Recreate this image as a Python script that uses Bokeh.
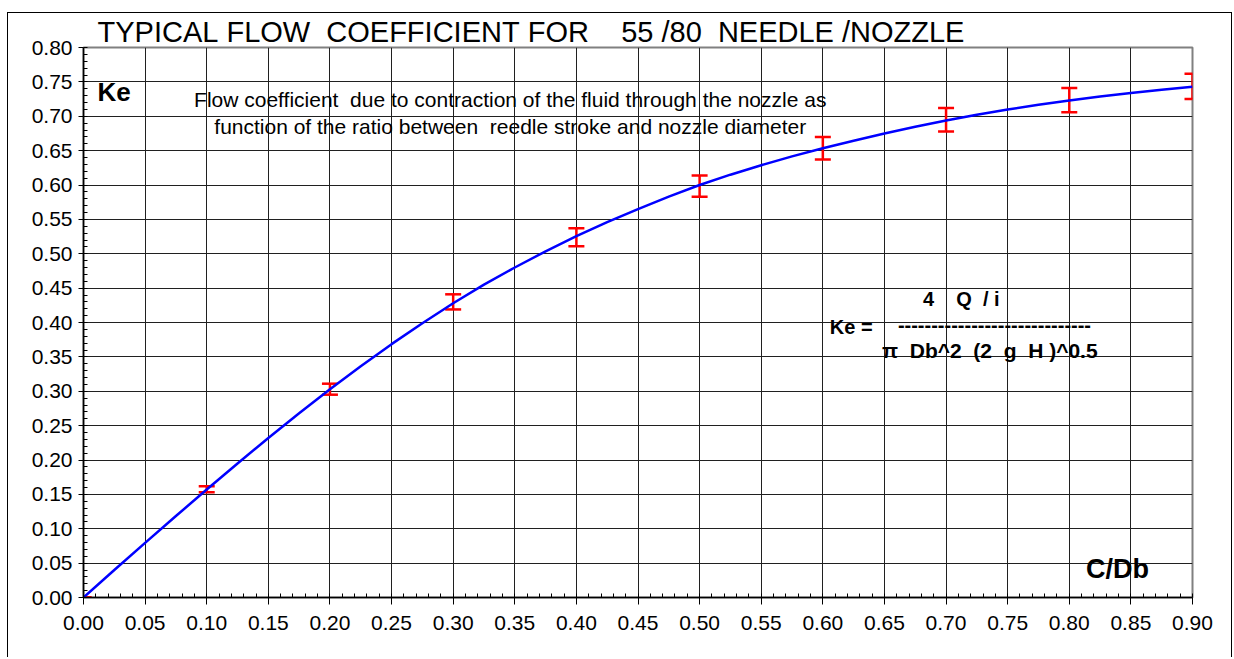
from bokeh.plotting import figure
from bokeh.models import (Label, Range1d, SingleIntervalTicker,
                          PrintfTickFormatter, Whisker, TeeHead, ColumnDataSource)
from bokeh.embed import file_html
from bokeh.resources import INLINE

# ---- data ----
curve_cdb = [0.000, 0.025, 0.050, 0.075, 0.100, 0.125, 0.150, 0.175, 0.200, 0.225,
             0.250, 0.275, 0.300, 0.325, 0.350, 0.375, 0.400, 0.425, 0.450, 0.475,
             0.500, 0.525, 0.550, 0.575, 0.600, 0.625, 0.650, 0.675, 0.700, 0.725,
             0.750, 0.775, 0.800, 0.825, 0.850, 0.875, 0.900]
curve_ke = [0.0000, 0.0400, 0.0795, 0.1185, 0.1570, 0.1950, 0.2320, 0.2680, 0.3030,
            0.3365, 0.3685, 0.3990, 0.4280, 0.4550, 0.4800, 0.5035, 0.5255, 0.5460,
            0.5650, 0.5830, 0.6000, 0.6150, 0.6288, 0.6416, 0.6534, 0.6644, 0.6748,
            0.6846, 0.6938, 0.7022, 0.7098, 0.7167, 0.7230, 0.7287, 0.7339, 0.7387,
            0.7430]

err_cdb = [0.0, 0.1, 0.2, 0.3, 0.4, 0.5, 0.6, 0.7, 0.8, 0.9]
err_low = [0.0, 0.153, 0.295, 0.419, 0.511, 0.583, 0.637, 0.678, 0.706, 0.725]
err_high = [0.0, 0.162, 0.311, 0.441, 0.537, 0.614, 0.670, 0.712, 0.741, 0.762]

NB = "\u00a0"
title_text = "TYPICAL FLOW  COEFFICIENT FOR    55 /80  NEEDLE /NOZZLE".replace(" ", NB)
note_lines = ["Flow coefficient  due to contraction of the fluid through the nozzle as",
              "function of the ratio between  reedle stroke and nozzle diameter"]

FONT = "Liberation Sans"

p = figure(width=1225, height=645, output_backend="svg", toolbar_location=None,
           x_range=Range1d(0, 0.9), y_range=Range1d(0, 0.8),
           min_border_left=75, min_border_right=41, min_border_top=34, min_border_bottom=61)
p.styles = {"margin-left": "7px", "margin-top": "12px",
            "border-left": "1px solid black", "border-top": "1px solid black",
            "border-right": "1px solid black"}
p.background_fill_color = "white"
p.border_fill_color = "white"
p.outline_line_color = "#808080"
p.outline_line_width = 2

p.title.text = title_text
p.title.align = "left"
p.title.offset = 14
p.title.standoff = 0
p.title.text_font = FONT
p.title.text_font_size = "29px"
p.title.text_font_style = "normal"
p.title.text_color = "black"

xt = SingleIntervalTicker(interval=0.05, num_minor_ticks=5)
yt = SingleIntervalTicker(interval=0.05, num_minor_ticks=5)
p.xaxis.ticker = xt
p.yaxis.ticker = yt
p.xgrid.ticker = xt
p.ygrid.ticker = yt
for g in (p.xgrid, p.ygrid):
    g.grid_line_color = "#202020"
    g.grid_line_width = 1

for ax in (p.xaxis, p.yaxis):
    ax.formatter = PrintfTickFormatter(format="%.2f")
    ax.axis_line_color = "black"
    ax.axis_line_width = 1.5
    ax.major_tick_line_color = "black"
    ax.minor_tick_line_color = "black"
    ax.major_tick_in = 0
    ax.minor_tick_in = 4
    ax.minor_tick_out = 0
    ax.major_label_text_font = FONT
    ax.major_label_text_font_size = "21px"
    ax.major_label_text_color = "black"
p.xaxis.major_tick_out = 7
p.xaxis.major_label_standoff = 11
p.yaxis.major_tick_out = 5
p.yaxis.major_label_standoff = 6

# curve
p.line(curve_cdb, curve_ke, line_color="#0000FF", line_width=2.5)

# error bars
src = ColumnDataSource(dict(x=err_cdb, lo=err_low, hi=err_high))
wh = Whisker(source=src, base="x", lower="lo", upper="hi",
             line_color="#FF0000", line_width=2.5,
             upper_head=TeeHead(size=16, line_color="#FF0000", line_width=2.5),
             lower_head=TeeHead(size=16, line_color="#FF0000", line_width=2.5))
p.add_layout(wh)

def lab(x, y, text, size, bold=False, align="left"):
    p.add_layout(Label(x=x, y=y, text=text.replace(" ", NB), text_font=FONT,
                       text_font_size=size,
                       text_font_style="bold" if bold else "normal",
                       text_align=align, text_baseline="middle", text_color="black"))

lab(0.0114, 0.735, "Ke", "26px", bold=True)
lab(0.3463, 0.7250, note_lines[0], "21px", align="center")
lab(0.3463, 0.6850, note_lines[1], "21px", align="center")
lab(0.6812, 0.4341, "4    Q  / i", "20px", bold=True)
lab(0.6057, 0.3933, "Ke =", "20px", bold=True)
lab(0.6609, 0.3960, "-" * 29, "20px", bold=True)
lab(0.6480, 0.3590, "\u03c0  Db^2  (2  g  H )^0.5", "21px", bold=True)
lab(0.8135, 0.0420, "C/Db", "27px", bold=True)

open("out.html", "w").write(file_html(p, INLINE))
